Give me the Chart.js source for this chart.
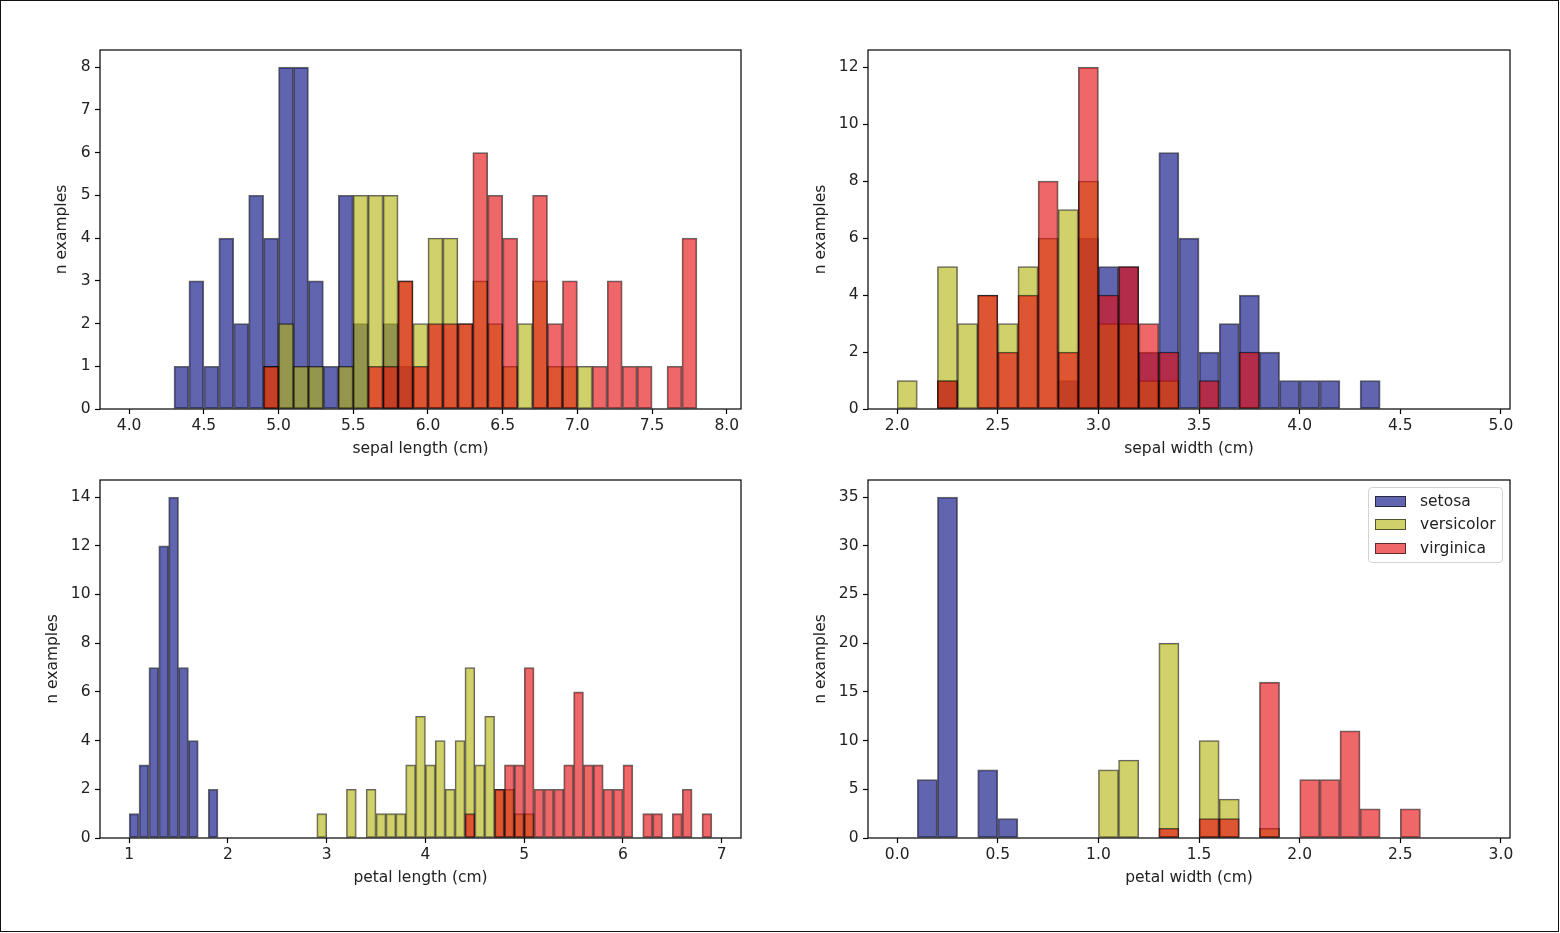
<!DOCTYPE html>
<html>
<head>
<meta charset="utf-8">
<script src="https://cdn.jsdelivr.net/npm/chart.js@4.4.0/dist/chart.umd.min.js"></script>
<style>
  body { margin: 0; background: #fff; font-family: 'DejaVu Sans', sans-serif; }
  #frame { position: absolute; left: 0; top: 0; width: 1559px; height: 932px; box-sizing: border-box; border: 1.5px solid #111; }
  canvas { position: absolute; }
  #legend { position: absolute; left: 1368px; top: 487px; width: 135px; height: 76px; box-sizing: border-box;
            border: 1px solid #d3d3d3; border-radius: 4px; background: rgba(255,255,255,0.8); }
  .row { position: absolute; left: 6px; height: 20px; font-size: 15.5px; color: #222; line-height: 20px; }
  .patch { position: absolute; left: 0; top: 4px; width: 31px; height: 11px; box-sizing: border-box; border: 1.2px solid rgba(0,0,0,0.6); }
  .row span { position: absolute; left: 45px; top: -1px; white-space: nowrap; }
</style>
</head>
<body>
<div id="frame"></div>
<canvas id="c1" width="708" height="428" style="left:53px;top:30px"></canvas>
<canvas id="c2" width="718" height="428" style="left:812px;top:30px"></canvas>
<canvas id="c3" width="717" height="427" style="left:44px;top:460px"></canvas>
<canvas id="c4" width="718" height="427" style="left:812px;top:460px"></canvas>
<div id="legend"></div>
<script>
const species = ['setosa', 'versicolor', 'virginica'];
const speciesColors = ['rgba(0,5,125,0.62)', 'rgba(181,180,18,0.62)', 'rgba(229,11,13,0.62)'];
const binWidth = 0.1;

// sepal length, bins 4.0 .. 7.8
const sepalLengthBins = [4.0,4.1,4.2,4.3,4.4,4.5,4.6,4.7,4.8,4.9,5.0,5.1,5.2,5.3,5.4,5.5,5.6,5.7,5.8,5.9,
  6.0,6.1,6.2,6.3,6.4,6.5,6.6,6.7,6.8,6.9,7.0,7.1,7.2,7.3,7.4,7.5,7.6,7.7,7.8];
const sepalLengthSetosa     = [0,0,0,1,3,1,4,2,5,4, 8,8,3,1,5,2,0,2,1,0, 0,0,0,0,0,0,0,0,0,0, 0,0,0,0,0,0,0,0,0];
const sepalLengthVersicolor = [0,0,0,0,0,0,0,0,0,1, 2,1,1,0,1,5,5,5,3,2, 4,4,2,3,2,1,2,3,1,1, 1,0,0,0,0,0,0,0,0];
const sepalLengthVirginica  = [0,0,0,0,0,0,0,0,0,1, 0,0,0,0,0,0,1,1,3,1, 2,2,2,6,5,4,0,5,2,3, 0,1,3,1,1,0,1,4,0];

// sepal width, bins 2.0 .. 4.8
const sepalWidthBins = [2.0,2.1,2.2,2.3,2.4,2.5,2.6,2.7,2.8,2.9,3.0,3.1,3.2,3.3,3.4,3.5,3.6,3.7,3.8,3.9,
  4.0,4.1,4.2,4.3,4.4,4.5,4.6,4.7,4.8];
const sepalWidthSetosa     = [0,0,1,0,0,0,0,0,1,6, 5,5,2,9,6,2,3,4,2,1, 1,1,0,1,0,0,0,0,0];
const sepalWidthVersicolor = [1,0,5,3,4,3,5,6,7,8, 3,3,1,1,0,0,0,0,0,0, 0,0,0,0,0,0,0,0,0];
const sepalWidthVirginica  = [0,0,1,0,4,2,4,8,2,12, 4,5,3,2,0,1,0,2,0,0, 0,0,0,0,0,0,0,0,0];

// petal length, bins 1.0 .. 6.8
const petalLengthBins = [1.0,1.1,1.2,1.3,1.4,1.5,1.6,1.7,1.8,1.9,2.0,2.1,2.2,2.3,2.4,2.5,2.6,2.7,2.8,2.9,
  3.0,3.1,3.2,3.3,3.4,3.5,3.6,3.7,3.8,3.9,4.0,4.1,4.2,4.3,4.4,4.5,4.6,4.7,4.8,4.9,
  5.0,5.1,5.2,5.3,5.4,5.5,5.6,5.7,5.8,5.9,6.0,6.1,6.2,6.3,6.4,6.5,6.6,6.7,6.8];
const petalLengthSetosa     = [1,3,7,12,14,7,4,0,2,0, 0,0,0,0,0,0,0,0,0,0, 0,0,0,0,0,0,0,0,0,0,
  0,0,0,0,0,0,0,0,0,0, 0,0,0,0,0,0,0,0,0,0, 0,0,0,0,0,0,0,0,0];
const petalLengthVersicolor = [0,0,0,0,0,0,0,0,0,0, 0,0,0,0,0,0,0,0,0,1, 0,0,2,0,2,1,1,1,3,5,
  3,4,2,4,7,3,5,2,2,1, 1,0,0,0,0,0,0,0,0,0, 0,0,0,0,0,0,0,0,0];
const petalLengthVirginica  = [0,0,0,0,0,0,0,0,0,0, 0,0,0,0,0,0,0,0,0,0, 0,0,0,0,0,0,0,0,0,0,
  0,0,0,0,1,0,0,2,3,3, 7,2,2,2,3,6,3,3,2,2, 3,0,1,1,0,1,2,0,1];

// petal width, bins 0.0 .. 2.8
const petalWidthBins = [0.0,0.1,0.2,0.3,0.4,0.5,0.6,0.7,0.8,0.9,1.0,1.1,1.2,1.3,1.4,1.5,1.6,1.7,1.8,1.9,
  2.0,2.1,2.2,2.3,2.4,2.5,2.6,2.7,2.8];
const petalWidthSetosa     = [0,6,35,0,7,2,0,0,0,0, 0,0,0,0,0,0,0,0,0,0, 0,0,0,0,0,0,0,0,0];
const petalWidthVersicolor = [0,0,0,0,0,0,0,0,0,0, 7,8,0,20,0,10,4,0,1,0, 0,0,0,0,0,0,0,0,0];
const petalWidthVirginica  = [0,0,0,0,0,0,0,0,0,0, 0,0,0,1,0,2,2,0,16,0, 6,6,11,3,0,3,0,0,0];

const sepalLengthTicks = [4.0,4.5,5.0,5.5,6.0,6.5,7.0,7.5,8.0];
const sepalWidthTicks = [2.0,2.5,3.0,3.5,4.0,4.5,5.0];
const petalLengthTicks = [1,2,3,4,5,6,7];
const petalWidthTicks = [0.0,0.5,1.0,1.5,2.0,2.5,3.0];
const countTicks1 = [0,1,2,3,4,5,6,7,8];
const countTicks2 = [0,2,4,6,8,10,12];
const countTicks3 = [0,2,4,6,8,10,12,14];
const countTicks4 = [0,5,10,15,20,25,30,35];

const font = { family: 'DejaVu Sans', size: 15.5 };
const textColor = '#222';

// matplotlib-like box around the axes
const axesFrame = {
  id: 'axesFrame',
  afterDatasetsDraw(chart) {
    const { ctx, chartArea: a } = chart;
    ctx.save();
    ctx.strokeStyle = '#000';
    ctx.lineWidth = 1.2;
    ctx.strokeRect(a.left, a.top, a.right - a.left, a.bottom - a.top);
    ctx.restore();
  }
};

function makeHist(id, bins, series, xMin, xMax, yMax, xTicks, yTicks, xLabel, xDigits, yW) {
  new Chart(document.getElementById(id), {
    type: 'bar',
    data: {
      datasets: series.map((counts, k) => ({
        label: species[k],
        data: bins.map((b, i) => ({ x: b + binWidth / 2, y: counts[i] })),
        backgroundColor: speciesColors[k],
        borderColor: 'rgba(0,0,0,0.6)',
        borderWidth: 1.2,
        borderSkipped: false,
        barPercentage: 1,
        categoryPercentage: 1,
        grouped: false,
        order: series.length - k   // later species painted on top, like matplotlib
      }))
    },
    options: {
      responsive: false,
      animation: false,
      layout: { padding: { left: 0, top: 20, right: 20, bottom: 0 } },
      plugins: { legend: { display: false }, tooltip: { enabled: false } },
      scales: {
        x: {
          type: 'linear', min: xMin, max: xMax, offset: false, stacked: false,
          grid: { display: true, drawOnChartArea: false, drawTicks: true, tickLength: 5, tickWidth: 1.2, tickColor: '#000', offset: false },
          border: { display: false },
          ticks: { font, color: textColor, padding: 3, maxRotation: 0, autoSkip: false,
                   callback: v => v.toFixed(xDigits) },
          title: { display: true, text: xLabel, font, color: textColor, padding: 0 },
          afterBuildTicks: s => { s.ticks = xTicks.map(v => ({ value: v })); },
          afterFit: s => { s.height = 49; }
        },
        y: {
          type: 'linear', min: 0, max: yMax, stacked: false,
          grid: { display: true, drawOnChartArea: false, drawTicks: true, tickLength: 5, tickWidth: 1.2, tickColor: '#000' },
          border: { display: false },
          ticks: { font, color: textColor, padding: 4.5, callback: v => String(v) },
          title: { display: true, text: 'n examples', font, color: textColor, padding: 0 },
          afterBuildTicks: s => { s.ticks = yTicks.map(v => ({ value: v })); },
          afterFit: s => { s.width = yW; }
        }
      }
    },
    plugins: [axesFrame]
  });
}

makeHist('c1', sepalLengthBins, [sepalLengthSetosa, sepalLengthVersicolor, sepalLengthVirginica],
  3.805, 8.095, 8.4, sepalLengthTicks, countTicks1, 'sepal length (cm)', 1, 47);
makeHist('c2', sepalWidthBins, [sepalWidthSetosa, sepalWidthVersicolor, sepalWidthVirginica],
  1.855, 5.045, 12.6, sepalWidthTicks, countTicks2, 'sepal width (cm)', 1, 56);
makeHist('c3', petalLengthBins, [petalLengthSetosa, petalLengthVersicolor, petalLengthVirginica],
  0.705, 7.195, 14.7, petalLengthTicks, countTicks3, 'petal length (cm)', 0, 56);
makeHist('c4', petalWidthBins, [petalWidthSetosa, petalWidthVersicolor, petalWidthVirginica],
  -0.145, 3.045, 36.75, petalWidthTicks, countTicks4, 'petal width (cm)', 1, 56);

// legend like matplotlib's, inside the last panel
const legend = document.getElementById('legend');
species.forEach((name, k) => {
  const row = document.createElement('div');
  row.className = 'row';
  row.style.top = (4 + k * 23.3) + 'px';
  row.innerHTML = '<div class="patch" style="background:' + speciesColors[k] + '"></div><span>' + name + '</span>';
  legend.appendChild(row);
});
</script>
</body>
</html>
